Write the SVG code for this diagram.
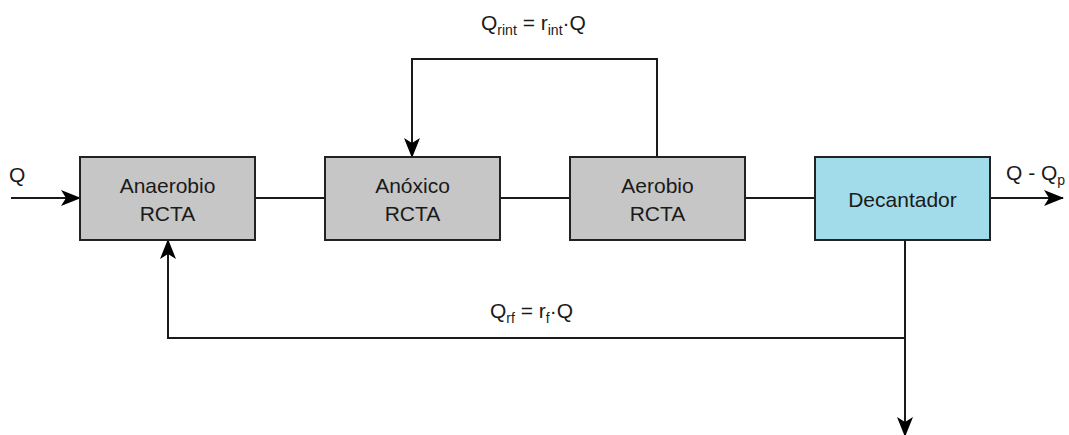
<svg xmlns="http://www.w3.org/2000/svg" width="1069" height="435" viewBox="0 0 1069 435">
<style>
text{font-family:"Liberation Sans",Arial,sans-serif;font-size:21px;fill:#1a1a1a}
.box{stroke:#222;stroke-width:2}
.gray{fill:#c6c6c6}
.blue{fill:#a2dbea}
.ln{fill:none;stroke:#1a1a1a;stroke-width:2}
.sub{font-size:14px}
</style>
<defs>
<marker id="ah" markerWidth="20" markerHeight="16" refX="19" refY="8" orient="auto" markerUnits="userSpaceOnUse">
<path d="M0,0 L20,8 L0,16 L5,8 Z" fill="#000"/>
</marker>
</defs>
<g id="connectors">
<line class="ln" x1="11" y1="198" x2="80" y2="198" marker-end="url(#ah)"/>
<line class="ln" x1="255" y1="198" x2="325" y2="198"/>
<line class="ln" x1="500" y1="198" x2="570" y2="198"/>
<line class="ln" x1="745" y1="198" x2="815" y2="198"/>
<line class="ln" x1="990" y1="198" x2="1063" y2="198" marker-end="url(#ah)"/>
<polyline class="ln" points="657,157 657,59 412,59 412,157" marker-end="url(#ah)"/>
<polyline class="ln" points="905,240 905,338 168,338 168,240" marker-end="url(#ah)"/>
<line class="ln" x1="905" y1="338" x2="905" y2="436" marker-end="url(#ah)"/>
</g>
<g id="anaerobio">
<rect class="box gray" x="80" y="157" width="175" height="83"/>
<text x="167.5" y="193" text-anchor="middle">Anaerobio</text>
<text x="167.5" y="221" text-anchor="middle">RCTA</text>
</g>
<g id="anoxico">
<rect class="box gray" x="325" y="157" width="175" height="83"/>
<text x="412.5" y="193" text-anchor="middle">Anóxico</text>
<text x="412.5" y="221" text-anchor="middle">RCTA</text>
</g>
<g id="aerobio">
<rect class="box gray" x="570" y="157" width="175" height="83"/>
<text x="657.5" y="193" text-anchor="middle">Aerobio</text>
<text x="657.5" y="221" text-anchor="middle">RCTA</text>
</g>
<g id="decantador">
<rect class="box blue" x="815" y="157" width="175" height="83"/>
<text x="902.5" y="207" text-anchor="middle">Decantador</text>
</g>
<g id="labels">
<text x="9" y="182">Q</text>
<text x="1006" y="180">Q - Q<tspan class="sub" dy="5">p</tspan></text>
<text x="481" y="30">Q<tspan class="sub" dy="5">rint</tspan><tspan dy="-5"> = r</tspan><tspan class="sub" dy="5">int</tspan><tspan dy="-5">·Q</tspan></text>
<text x="490" y="318">Q<tspan class="sub" dy="5">rf</tspan><tspan dy="-5"> = r</tspan><tspan class="sub" dy="5">f</tspan><tspan dy="-5">·Q</tspan></text>
</g>
</svg>
